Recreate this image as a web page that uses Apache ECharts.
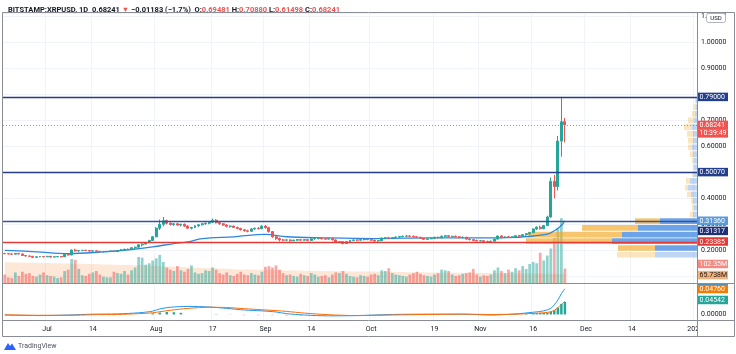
<!DOCTYPE html>
<html>
<head>
<meta charset="utf-8">
<script src="https://cdn.jsdelivr.net/npm/echarts@6/dist/echarts.min.js"></script>
<style>
  html, body { margin: 0; padding: 0; background: #fff; }
  #chart { width: 736px; height: 354px; }
</style>
</head>
<body>
<div id="chart"></div>
<script>
// daily candles, 2020-06-19 .. 2020-11-25, rows are [open, high, low, close]
const candles = [
  [.188,.190,.185,.187],[.187,.189,.184,.186],[.186,.188,.183,.185],[.185,.190,.184,.188],[.188,.189,.184,.186],
  [.186,.187,.178,.180],[.180,.182,.176,.178],[.178,.180,.175,.177],[.177,.178,.170,.173],[.173,.176,.172,.175],
  [.175,.177,.173,.176],[.176,.177,.173,.175],[.175,.178,.174,.177],[.177,.178,.172,.174],[.174,.176,.173,.175],
  [.175,.177,.174,.176],[.176,.177,.173,.175],[.175,.185,.174,.184],[.184,.186,.180,.182],[.182,.203,.181,.201],
  [.201,.206,.195,.198],[.198,.200,.194,.199],[.199,.201,.197,.200],[.200,.202,.197,.199],[.199,.200,.195,.197],
  [.197,.199,.195,.198],[.198,.199,.195,.196],[.196,.197,.192,.194],[.194,.196,.193,.195],[.195,.197,.194,.196],
  [.196,.198,.195,.197],[.197,.198,.194,.195],[.195,.201,.194,.199],[.199,.205,.198,.203],[.203,.206,.200,.204],
  [.204,.207,.201,.203],[.203,.212,.202,.210],[.210,.214,.205,.212],[.212,.224,.210,.221],[.221,.227,.215,.224],
  [.224,.232,.222,.230],[.230,.240,.228,.238],[.238,.255,.236,.252],[.252,.290,.250,.285],[.285,.318,.278,.300],
  [.300,.328,.292,.314],[.314,.318,.300,.304],[.304,.308,.296,.299],[.299,.305,.294,.302],[.302,.306,.295,.297],
  [.297,.302,.292,.300],[.300,.303,.290,.293],[.293,.296,.282,.285],[.285,.290,.280,.288],[.288,.296,.286,.294],
  [.294,.300,.290,.298],[.298,.305,.295,.302],[.302,.307,.298,.304],[.304,.310,.300,.308],[.308,.322,.305,.316],
  [.316,.320,.303,.306],[.306,.310,.298,.302],[.302,.305,.294,.297],[.297,.300,.288,.292],[.292,.296,.287,.293],
  [.293,.295,.286,.288],[.288,.291,.281,.284],[.284,.287,.276,.279],[.279,.282,.272,.275],[.275,.279,.269,.273],
  [.273,.285,.271,.282],[.282,.287,.278,.285],[.285,.289,.280,.283],[.283,.296,.281,.293],[.293,.297,.283,.287],
  [.287,.290,.268,.272],[.272,.274,.248,.252],[.252,.256,.240,.245],[.245,.249,.234,.240],[.240,.244,.236,.239],
  [.239,.242,.235,.240],[.240,.242,.233,.237],[.237,.241,.235,.239],[.239,.243,.237,.241],[.241,.243,.237,.239],
  [.239,.242,.237,.241],[.241,.243,.236,.238],[.238,.246,.237,.244],[.244,.248,.241,.245],[.245,.249,.242,.247],
  [.247,.249,.242,.244],[.244,.247,.241,.243],[.243,.246,.241,.245],[.245,.246,.238,.240],[.240,.242,.228,.231],
  [.231,.235,.228,.233],[.233,.234,.223,.226],[.226,.234,.225,.233],[.233,.240,.231,.238],[.238,.241,.236,.240],
  [.240,.242,.236,.239],[.239,.243,.237,.241],[.241,.244,.238,.242],[.242,.244,.239,.241],[.241,.243,.236,.239],
  [.239,.240,.230,.236],[.236,.239,.234,.237],[.237,.249,.236,.247],[.247,.251,.244,.248],[.248,.252,.243,.245],
  [.245,.250,.244,.249],[.249,.253,.246,.251],[.251,.255,.248,.253],[.253,.257,.250,.254],[.254,.258,.251,.255],
  [.255,.258,.250,.254],[.254,.257,.249,.252],[.252,.255,.248,.250],[.250,.252,.244,.246],[.246,.248,.240,.242],
  [.242,.246,.241,.244],[.244,.248,.243,.246],[.246,.252,.245,.250],[.250,.253,.246,.248],[.248,.257,.246,.254],
  [.254,.258,.250,.256],[.256,.258,.251,.253],[.253,.256,.250,.254],[.254,.257,.250,.252],[.252,.254,.246,.249],
  [.249,.253,.246,.250],[.250,.252,.241,.243],[.243,.246,.238,.241],[.241,.243,.235,.238],[.238,.241,.234,.236],
  [.236,.239,.234,.237],[.237,.238,.231,.234],[.234,.237,.230,.233],[.233,.237,.231,.235],[.235,.245,.234,.243],
  [.243,.257,.242,.255],[.255,.258,.245,.250],[.250,.254,.247,.252],[.252,.256,.248,.250],[.250,.254,.247,.252],
  [.252,.258,.250,.256],[.256,.259,.252,.255],[.255,.262,.253,.260],[.260,.266,.256,.264],[.264,.270,.260,.268],
  [.268,.284,.266,.282],[.282,.292,.278,.289],[.289,.295,.280,.283],[.283,.297,.281,.295],[.295,.333,.293,.328],
  [.328,.480,.325,.465],[.465,.490,.400,.445],[.445,.640,.430,.620],[.620,.790,.560,.69424],[.69481,.70880,.61498,.68241]
];

// daily volume, millions
const volumes = [
  60, 40, 35, 75, 50, 80, 65, 70, 50, 45,
  60, 75, 55, 50, 45, 35, 40, 85, 95, 170,
  165, 100, 55, 50, 65, 75, 85, 60, 45, 40,
  40, 80, 70, 65, 85, 60, 90, 110, 185, 180,
  130, 140, 160, 175, 200, 150, 110, 95, 85, 120,
  90, 80, 100, 125, 75, 65, 70, 90, 85, 110,
  95, 70, 60, 75, 55, 50, 65, 80, 60, 55,
  70, 60, 55, 80, 115, 120, 110, 125, 95, 70,
  55, 60, 50, 45, 65, 55, 50, 70, 60, 45,
  50, 55, 40, 60, 75, 70, 85, 65, 50, 45,
  40, 55, 50, 45, 60, 65, 55, 90, 85, 105,
  70, 60, 55, 50, 45, 60, 70, 80, 65, 55,
  50, 45, 60, 70, 95, 90, 85, 60, 50, 55,
  65, 70, 75, 100, 60, 45, 55, 50, 60, 90,
  110, 85, 70, 95, 80, 105, 90, 120, 100, 135,
  150, 140, 215, 160, 195, 245, 320, 390, 460, 102.35
];

// volume moving average (peach area), read at a few days
const volMaIdx = [0, 35, 70, 110, 140, 159];
const volMaVals = [148, 128, 95, 78, 70, 65.738];

// blue moving average on price
const maIdx = [0, 9, 18, 27, 36, 42, 48, 52, 56, 65, 74, 80, 90, 105, 120, 135, 145, 150, 154, 156, 158, 159];
const maVals = [0.200, 0.194, 0.187, 0.193, 0.203, 0.213, 0.226, 0.232, 0.245, 0.252, 0.261, 0.252, 0.248,
                0.245, 0.248, 0.248, 0.250, 0.255, 0.262, 0.275, 0.295, 0.3136];

// MACD pane
const macdIdx = [0, 10, 18, 25, 32, 38, 42, 44, 47, 52, 58, 63, 68, 73, 77, 80, 85, 92, 100, 110, 120, 130, 138, 145, 150, 153, 155, 156, 157, 158, 159];
const macdVals = [-0.002, -0.004, -0.002, 0.001, 0.002, 0.006, 0.012, 0.020, 0.026, 0.029, 0.027, 0.022, 0.016, 0.013, 0.009,
                  0.003, -0.002, -0.005, -0.004, 0.000, 0.001, 0.001, -0.002, 0.002, 0.008, 0.013, 0.022, 0.035, 0.052, 0.075, 0.093];
const signalVals = [-0.001, -0.003, -0.003, -0.001, 0.000, 0.003, 0.006, 0.010, 0.015, 0.022, 0.026, 0.025, 0.021, 0.017, 0.014,
                    0.011, 0.005, -0.001, -0.004, -0.002, 0.000, 0.001, 0.000, 0.001, 0.004, 0.006, 0.010, 0.015, 0.024, 0.036, 0.0476];
const histIdx = [42, 44, 46, 48, 50, 60, 64, 68, 72, 76, 80, 84, 145, 148, 150, 151, 152, 153, 154, 155, 156, 157, 158, 159];
const histVals = [0.004, 0.007, 0.009, 0.008, 0.006, 0.001, -0.002, -0.004, -0.004, -0.005, -0.006, -0.006,
                  0.001, 0.002, 0.004, 0.005, 0.005, 0.006, 0.007, 0.010, 0.015, 0.025, 0.038, 0.04542];

// visible-range volume profile: price bins, up (blue) and down (yellow) volume
const vpLow  = [0.170, 0.196, 0.222, 0.247, 0.273, 0.299, 0.325, 0.351, 0.377, 0.402, 0.428, 0.454,
                0.480, 0.506, 0.532, 0.557, 0.583, 0.609, 0.635, 0.661, 0.687, 0.712, 0.738, 0.764];
const vpUp   = [420, 420, 850, 750, 590, 370, 40, 30, 40, 60, 90, 70, 30, 30, 30, 40, 50, 40, 40, 50, 30, 20, 15, 10];
const vpDown = [380, 370, 860, 940, 560, 250, 30, 20, 20, 40, 30, 40, 20, 10, 20, 30, 40, 50, 60, 80, 60, 30, 20, 10];
const vpStep = 0.0258;
const valueArea = [0.196, 0.299];

// horizontal levels
const levels = [0.79, 0.5007, 0.31317, 0.23385];
const lastPrice = 0.68241;

// time axis ticks
const tickDates = ['2020-07-01', '2020-07-14', '2020-08-01', '2020-08-17', '2020-09-01', '2020-09-14', '2020-10-01',
                   '2020-10-19', '2020-11-01', '2020-11-16', '2020-12-01', '2020-12-14', '2021-01-01'];
const tickLabels = ['Jul', '14', 'Aug', '17', 'Sep', '14', 'Oct', '19', 'Nov', '16', 'Dec', '14', '2021'];

// categories: one per day up to Jan 1 2021
const dates = [];
const day0 = Date.UTC(2020, 5, 19);
for (let i = 0; i < 197; i++) dates.push(new Date(day0 + i * 864e5).toISOString().slice(0, 10));

const UP = '#26a69a', DOWN = '#ef5350';
const FONT = 'Roboto';

const isUp = i => candles[i][3] >= candles[i][0];
const tickShown = (idx, val) => tickDates.indexOf(val) >= 0;

const chart = echarts.init(document.getElementById('chart'));

const gridBox = { left: 3, right: 39 };

const option = {
  animation: false,
  textStyle: { fontFamily: FONT },
  title: {
    left: 3, top: 1,
    text: '{s|BITSTAMP:XRPUSD, 1D}  {n|0.68241} {r|▼} {n|−0.01183 (−1.7%)}  {n|O:}{r|0.69481} {n|H:}{r|0.70880} {n|L:}{r|0.61498} {n|C:}{r|0.68241}',
    textStyle: {
      fontSize: 7.5,
      rich: {
        s: { fontFamily: FONT, fontSize: 7.5, fontWeight: 'bold', color: '#131722' },
        n: { fontFamily: FONT, fontSize: 7.5, color: '#131722' },
        r: { fontFamily: FONT, fontSize: 7.5, color: '#ef5350' }
      }
    }
  },
  grid: [
    { ...gridBox, top: 13, bottom: 71 },
    { ...gridBox, top: 13, bottom: 71 },
    { ...gridBox, top: 284, bottom: 34 }
  ],
  xAxis: [
    { type: 'category', gridIndex: 0, data: dates, boundaryGap: true,
      axisLine: { show: false }, axisTick: { show: false }, axisLabel: { show: false },
      splitLine: { show: true, interval: tickShown, lineStyle: { color: '#f0f3fa', width: 1 } } },
    { type: 'value', gridIndex: 0, position: 'top', inverse: true, min: 0, max: 6940, show: false },
    { type: 'category', gridIndex: 1, data: dates, boundaryGap: true, show: false },
    { type: 'category', gridIndex: 2, data: dates, boundaryGap: true,
      axisLine: { show: false }, axisTick: { show: false },
      axisLabel: {
        interval: tickShown, color: '#131722', fontSize: 7, margin: 6, fontFamily: FONT,
        formatter: v => tickLabels[tickDates.indexOf(v)]
      },
      splitLine: { show: true, interval: tickShown, lineStyle: { color: '#f0f3fa' } } }
  ],
  yAxis: [
    { type: 'value', gridIndex: 0, position: 'right', min: 0.0742, max: 1.1127, splitNumber: 10,
      axisLine: { show: false }, axisTick: { show: false },
      axisLabel: { color: '#131722', fontSize: 7, margin: 4, fontFamily: FONT,
                   showMinLabel: false, showMaxLabel: false,
                   // the 0.8 label sits under the 0.79 tag in the reference
                   formatter: v => Math.abs(v - 0.8) < 1e-9 ? '' : v.toFixed(5) },
      splitLine: { lineStyle: { color: '#f0f3fa' } } },
    { type: 'value', gridIndex: 1, min: 0, max: 1917, show: false },
    { type: 'value', gridIndex: 2, position: 'right', min: -0.02, max: 0.11, interval: 0.01,
      axisLine: { show: false }, axisTick: { show: false }, splitLine: { show: false },
      axisLabel: { color: '#131722', fontSize: 7, margin: 4, fontFamily: FONT,
                   formatter: v => Math.abs(v) < 1e-9 ? '0.00000' : '' } }
  ],
  series: [
    {
      name: 'VolMA', type: 'line', xAxisIndex: 2, yAxisIndex: 1, z: 0,
      data: volMaIdx.map((d, k) => [dates[d], volMaVals[k]]),
      symbol: 'none', smooth: 0.4,
      lineStyle: { width: 0 },
      areaStyle: { color: 'rgba(245,150,80,0.33)' }
    },
    {
      name: 'Volume', type: 'bar', xAxisIndex: 2, yAxisIndex: 1, z: 1, barWidth: '78%',
      data: volumes.map((v, i) => ({ value: v, itemStyle: { color: isUp(i) ? 'rgba(38,166,154,0.5)' : 'rgba(239,83,80,0.5)' } }))
    },
    {
      name: 'VPVR', type: 'custom', xAxisIndex: 1, yAxisIndex: 0, z: 2,
      data: vpLow.map((lo, k) => [lo, lo + vpStep, vpUp[k], vpDown[k]]),
      encode: { x: 2, y: 0 },
      renderItem: (params, api) => {
        const lo = api.value(0), hi = api.value(1), up = api.value(2), dn = api.value(3);
        const pRight = api.coord([0, hi]);
        const pUp = api.coord([up, lo]);
        const pAll = api.coord([up + dn, lo]);
        const inVA = lo >= valueArea[0] - 1e-6 && lo <= valueArea[1] + 1e-6;
        const y = pRight[1] + 0.5, h = pUp[1] - pRight[1] - 1;
        return {
          type: 'group',
          children: [
            { type: 'rect', shape: { x: pUp[0], y: y, width: pRight[0] - pUp[0], height: h },
              style: { fill: inVA ? 'rgba(40,120,220,0.68)' : 'rgba(40,120,220,0.3)' } },
            { type: 'rect', shape: { x: pAll[0], y: y, width: pUp[0] - pAll[0], height: h },
              style: { fill: inVA ? 'rgba(242,170,40,0.68)' : 'rgba(242,170,40,0.3)' } }
          ]
        };
      }
    },
    {
      name: 'MA', type: 'line', xAxisIndex: 0, yAxisIndex: 0, z: 3,
      data: maIdx.map((d, k) => [dates[d], maVals[k]]),
      symbol: 'none', smooth: 0.35,
      lineStyle: { color: '#2e86de', width: 1.3 }
    },
    {
      name: 'XRPUSD', type: 'candlestick', xAxisIndex: 0, yAxisIndex: 0, z: 4, barWidth: '70%',
      data: candles.map(r => [r[0], r[3], r[2], r[1]]),
      itemStyle: { color: UP, color0: DOWN, borderColor: UP, borderColor0: DOWN, borderWidth: 1 },
      markLine: {
        silent: true, symbol: ['none', 'none'], label: { show: false },
        data: [
          { yAxis: levels[0], lineStyle: { color: '#263c85', width: 1.3, type: 'solid' } },
          { yAxis: levels[1], lineStyle: { color: '#263c85', width: 1.3, type: 'solid' } },
          { yAxis: levels[2], lineStyle: { color: '#3a4f9e', width: 1.3, type: 'solid' } },
          { yAxis: levels[3], lineStyle: { color: '#e53935', width: 1.3, type: 'solid' } },
          { yAxis: lastPrice, lineStyle: { color: '#ef5350', width: 1, type: [1, 2], opacity: 0.8 } }
        ]
      }
    },
    {
      name: 'Hist', type: 'bar', xAxisIndex: 3, yAxisIndex: 2, barWidth: '70%',
      data: histIdx.map((d, k) => ({ value: [dates[d], histVals[k]],
        itemStyle: { color: histVals[k] >= 0 ? UP : '#ffcdd2' } }))
    },
    {
      name: 'MACD', type: 'line', xAxisIndex: 3, yAxisIndex: 2, symbol: 'none', smooth: 0.3,
      data: macdIdx.map((d, k) => [dates[d], macdVals[k]]),
      lineStyle: { color: '#2196f3', width: 1 }
    },
    {
      name: 'Signal', type: 'line', xAxisIndex: 3, yAxisIndex: 2, symbol: 'none', smooth: 0.3,
      data: macdIdx.map((d, k) => [dates[d], signalVals[k]]),
      lineStyle: { color: '#ff6d00', width: 1 }
    }
  ]
};

chart.setOption(option);

// price / value tags on the right scale, placed through the axes
const py = (axis, v) => chart.convertToPixel({ yAxisIndex: axis }, v);
const tags = [
  [0, 0.79, '0.79000', '#233e8b', '#fff', 0],
  [0, lastPrice, '0.68241', '#ef5350', '#fff', 0],
  [0, lastPrice, '10:39:49', '#ef5350', '#fff', 8.5],
  [0, 0.5007, '0.50070', '#233e8b', '#fff', 0],
  [0, 0.3136, '0.31360', '#5b9bd8', '#fff', 0],
  [0, 0.31317, '0.31317', '#1f3077', '#fff', 10],
  [0, 0.23385, '0.23385', '#e53935', '#fff', 0],
  [1, 102.35, '102.35M', '#f28b82', '#fff', -4.6],
  [1, 65.738, '65.738M', '#f7b27a', '#131722', 1.3],
  [2, 0.0476, '0.04760', '#f57c00', '#fff', -12.3],
  [2, 0.04542, '0.04542', '#26a69a', '#fff', -1.9]
];
const AX = 697;
const graphics = [];
// clipped MACD tag peeking above the signal tag
graphics.push({ type: 'rect', z: 50, shape: { x: AX, y: 283.5, width: 31, height: 4 }, style: { fill: '#2196f3' } });
tags.forEach(t => {
  const cy = py(t[0], t[1]) + t[5];
  graphics.push({ type: 'rect', z: 51, shape: { x: AX, y: cy - 4.25, width: 31, height: 8.5 }, style: { fill: t[3] } });
  graphics.push({ type: 'text', z: 52, x: AX + 2.5, y: cy + 0.3,
    style: { text: t[2], fill: t[4], font: '7px ' + FONT, align: 'left', verticalAlign: 'middle',
             textAlign: 'left', textVerticalAlign: 'middle' } });
});
// hide the time label running under the price scale
graphics.push({ type: 'rect', z: 40, shape: { x: AX + 0.5, y: 321, width: 37, height: 15 }, style: { fill: '#fff' } });
// frame and pane separators
const frame = '#8a8d96';
[[2.5, 12.5, 734.5, 12.5], [2.5, 12.5, 2.5, 336.5], [734.5, 12.5, 734.5, 336.5], [2.5, 336.5, 734.5, 336.5],
 [2.5, 283.5, 734.5, 283.5], [2.5, 320.5, 734.5, 320.5], [AX + 0.5, 12.5, AX + 0.5, 336.5]].forEach(l => {
  graphics.push({ type: 'line', z: 60, shape: { x1: l[0], y1: l[1], x2: l[2], y2: l[3] }, style: { stroke: frame, lineWidth: 1 } });
});
// currency badge
graphics.push({ type: 'rect', z: 61, shape: { x: 706.5, y: 13.5, width: 19, height: 9, r: 2 }, style: { fill: '#fff', stroke: '#b2b5be', lineWidth: 1 } });
graphics.push({ type: 'text', z: 62, x: 716, y: 18, style: { text: 'USD', fill: '#131722', font: '6px ' + FONT,
  align: 'center', verticalAlign: 'middle', textAlign: 'center', textVerticalAlign: 'middle' } });
// logo
graphics.push({ type: 'polygon', z: 61, shape: { points: [[4, 350], [8, 343], [10, 346], [12, 343.5], [16, 350]] }, style: { fill: '#2962ff' } });
graphics.push({ type: 'text', z: 62, x: 18, y: 346.5, style: { text: 'TradingView', fill: '#50535e', font: '7px ' + FONT,
  align: 'left', verticalAlign: 'middle', textAlign: 'left', textVerticalAlign: 'middle' } });

chart.setOption({ graphic: graphics });
</script>
</body>
</html>
